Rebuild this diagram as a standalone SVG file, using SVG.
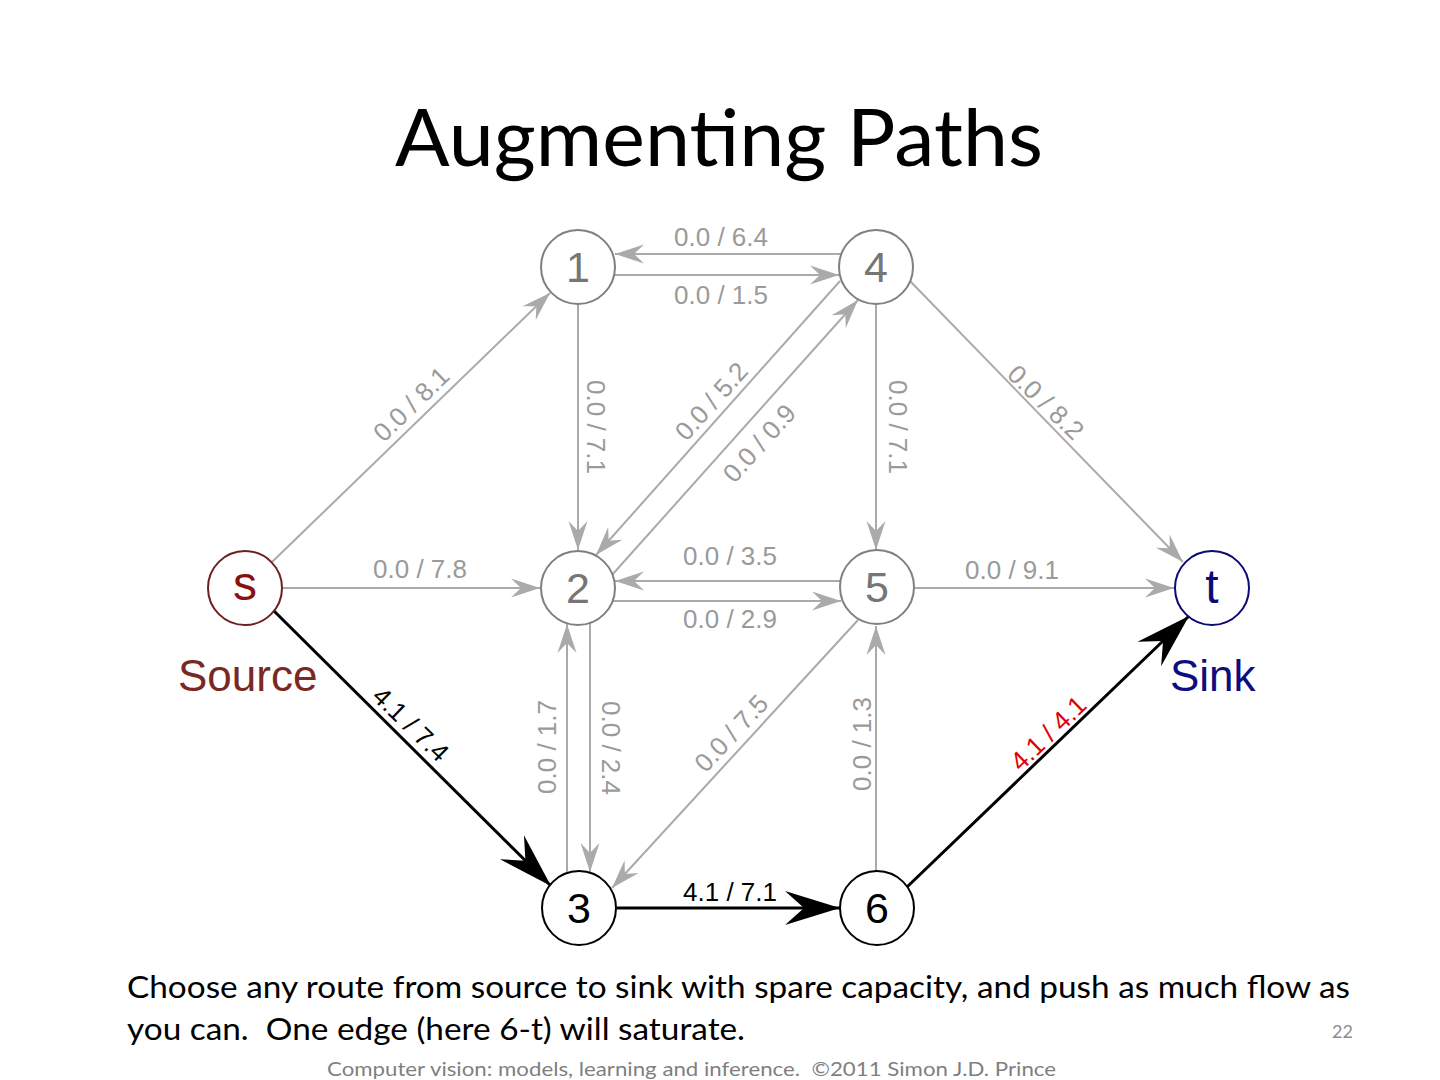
<svg xmlns="http://www.w3.org/2000/svg" width="1440" height="1080" viewBox="0 0 1440 1080">
<style>
.bg{fill:#ffffff}
.e{stroke:#aaaaaa;stroke-width:2;fill:none;marker-end:url(#ag)}
.eb{stroke:#000000;stroke-width:3;fill:none;marker-end:url(#ab)}
.lbl{font-family:"Liberation Sans",Arial,sans-serif;font-size:26px;fill:#9a9a9a;text-anchor:middle}
.lblk{fill:#000000}
.lblr{fill:#e00000}
.ng circle{fill:#ffffff;stroke:#808080;stroke-width:2}
.ng text{font-family:"Liberation Sans",Arial,sans-serif;font-size:43px;fill:#767676;text-anchor:middle}
.nk circle{fill:#ffffff;stroke:#000000;stroke-width:2}
.nk text{font-family:"Liberation Sans",Arial,sans-serif;font-size:43px;fill:#000000;text-anchor:middle}
.cal{font-family:Lato,"Open Sans",sans-serif;white-space:pre}
</style>
<defs>
<marker id="ag" viewBox="-30 -11 32 22" refX="0" refY="0" markerWidth="32" markerHeight="22" markerUnits="userSpaceOnUse" orient="auto">
<path d="M0,0 L-29,-9.5 L-19,0 L-29,9.5 Z" fill="#aaaaaa"/>
</marker>
<marker id="ab" viewBox="-57 -19 59 38" refX="0" refY="0" markerWidth="59" markerHeight="38" markerUnits="userSpaceOnUse" orient="auto">
<path d="M0,0 L-55,-17 L-36,0 L-55,17 Z" fill="#000000"/>
</marker>
</defs>
<rect class="bg" x="0" y="0" width="1440" height="1080"/>

<text class="cal" x="395" y="166" font-size="80" textLength="648" lengthAdjust="spacingAndGlyphs" fill="#000000">Augmenting Paths</text>

<g id="connectors">
<line class="e" x1="841" y1="254" x2="615" y2="254"/>
<line class="e" x1="614" y1="275" x2="839" y2="275"/>
<line class="e" x1="272" y1="562" x2="550" y2="293"/>
<line class="e" x1="578" y1="304" x2="578" y2="550"/>
<line class="e" x1="840" y1="281" x2="596" y2="555"/>
<line class="e" x1="612" y1="575" x2="858" y2="300"/>
<line class="e" x1="876" y1="304" x2="876" y2="550"/>
<line class="e" x1="910" y1="281" x2="1183" y2="562"/>
<line class="e" x1="282" y1="588" x2="540" y2="588"/>
<line class="e" x1="841" y1="581" x2="615" y2="581"/>
<line class="e" x1="613" y1="601" x2="841" y2="601"/>
<line class="e" x1="915" y1="588" x2="1174" y2="588"/>
<line class="e" x1="567" y1="873" x2="567" y2="624"/>
<line class="e" x1="590" y1="623" x2="590" y2="872"/>
<line class="e" x1="858" y1="620" x2="612" y2="888"/>
<line class="e" x1="876" y1="871" x2="876" y2="626"/>
<line class="eb" x1="273" y1="610" x2="551" y2="886"/>
<line class="eb" x1="617" y1="908" x2="840" y2="908"/>
<line class="eb" x1="907" y1="887" x2="1189" y2="616"/>
</g>

<g id="edge-labels">
<text class="lbl" x="721" y="246">0.0 / 6.4</text>
<text class="lbl" x="721" y="304">0.0 / 1.5</text>
<text class="lbl" transform="translate(411,404) rotate(-44)" x="0" y="9.3">0.0 / 8.1</text>
<text class="lbl" transform="translate(596,427) rotate(90)" x="0" y="9.3">0.0 / 7.1</text>
<text class="lbl" transform="translate(711,401) rotate(-48)" x="0" y="9.3">0.0 / 5.2</text>
<text class="lbl" transform="translate(759,443) rotate(-48)" x="0" y="9.3">0.0 / 0.9</text>
<text class="lbl" transform="translate(898,427) rotate(90)" x="0" y="9.3">0.0 / 7.1</text>
<text class="lbl" transform="translate(1046,402) rotate(44)" x="0" y="9.3">0.0 / 8.2</text>
<text class="lbl" x="420" y="578">0.0 / 7.8</text>
<text class="lbl" x="730" y="565">0.0 / 3.5</text>
<text class="lbl" x="730" y="628">0.0 / 2.9</text>
<text class="lbl" x="1012" y="579">0.0 / 9.1</text>
<text class="lbl" transform="translate(547,747) rotate(-90)" x="0" y="9.3">0.0 / 1.7</text>
<text class="lbl" transform="translate(611,748) rotate(90)" x="0" y="9.3">0.0 / 2.4</text>
<text class="lbl" transform="translate(731,733) rotate(-47)" x="0" y="9.3">0.0 / 7.5</text>
<text class="lbl" transform="translate(862,744) rotate(-90)" x="0" y="9.3">0.0 / 1.3</text>
<text class="lbl lblk" transform="translate(411,724) rotate(44)" x="0" y="9.3">4.1 / 7.4</text>
<text class="lbl lblk" x="730" y="901">4.1 / 7.1</text>
<text class="lbl lblr" transform="translate(1048,733) rotate(-44)" x="0" y="9.3">4.1 / 4.1</text>
</g>

<g id="node-1" class="ng"><circle cx="578" cy="267" r="37"/><text x="578" y="282">1</text></g>
<g id="node-4" class="ng"><circle cx="876" cy="267" r="37"/><text x="876" y="282">4</text></g>
<g id="node-2" class="ng"><circle cx="578" cy="588" r="37"/><text x="578" y="603">2</text></g>
<g id="node-5" class="ng"><circle cx="877" cy="587" r="37"/><text x="877" y="602">5</text></g>
<g id="node-3" class="nk"><circle cx="579" cy="908" r="37"/><text x="579" y="923">3</text></g>
<g id="node-6" class="nk"><circle cx="877" cy="908" r="37"/><text x="877" y="923">6</text></g>
<g id="node-s">
<circle cx="245" cy="588" r="37" fill="#ffffff" stroke="#6e2020" stroke-width="2"/>
<text x="245" y="600" font-family="Liberation Sans,Arial,sans-serif" font-size="48" fill="#8a1010" text-anchor="middle">s</text>
<text x="178" y="691" font-family="Liberation Sans,Arial,sans-serif" font-size="44" fill="#7a2822">Source</text>
</g>
<g id="node-t">
<circle cx="1212" cy="588" r="37" fill="#ffffff" stroke="#0b0b70" stroke-width="2"/>
<text x="1212" y="603" font-family="Liberation Sans,Arial,sans-serif" font-size="48" fill="#0b0b78" text-anchor="middle">t</text>
<text x="1170" y="691" font-family="Liberation Sans,Arial,sans-serif" font-size="44" fill="#0d0d80">Sink</text>
</g>

<text class="cal" x="127" y="998" font-size="31" textLength="1223" lengthAdjust="spacingAndGlyphs" fill="#000000">Choose any route from source to sink with spare capacity, and push as much flow as</text>
<text class="cal" x="127" y="1040" font-size="31" textLength="618" lengthAdjust="spacingAndGlyphs" fill="#000000">you can.  One edge (here 6-t) will saturate.</text>
<text class="cal" x="1353" y="1038" font-size="18" text-anchor="end" fill="#8c8c8c">22</text>
<text class="cal" x="327" y="1076" font-size="20" textLength="729" lengthAdjust="spacingAndGlyphs" fill="#7f7f7f">Computer vision: models, learning and inference.  ©2011 Simon J.D. Prince</text>
</svg>
